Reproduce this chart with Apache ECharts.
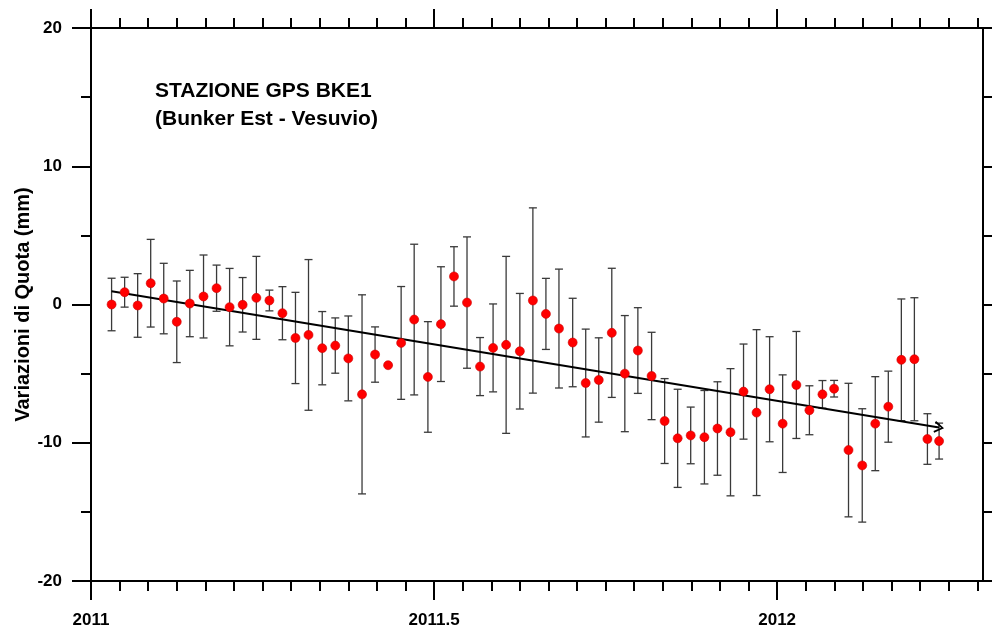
<!DOCTYPE html>
<html><head><meta charset="utf-8">
<script src="https://cdn.jsdelivr.net/npm/echarts@6/dist/echarts.min.js"></script>
<style>html,body{margin:0;padding:0;background:#fff}#c{width:992px;height:628px}</style>
</head><body><div id="c"></div>
<script>
// decimal-year epochs of the weekly GPS solutions
const times = [2011.030,2011.049,2011.068,2011.087,2011.106,2011.125,2011.144,2011.164,2011.183,2011.202,
  2011.221,2011.241,2011.260,2011.279,2011.298,2011.317,2011.337,2011.356,2011.375,2011.395,
  2011.414,2011.433,2011.452,2011.471,2011.491,2011.510,2011.529,2011.548,2011.567,2011.586,
  2011.605,2011.625,2011.644,2011.663,2011.682,2011.702,2011.721,2011.740,2011.759,2011.778,
  2011.797,2011.817,2011.836,2011.855,2011.874,2011.894,2011.913,2011.932,2011.951,2011.970,
  2011.989,2012.008,2012.028,2012.047,2012.066,2012.083,2012.104,2012.124,2012.143,2012.162,
  2012.181,2012.200,2012.219,2012.236];
// height variation (mm)
const values = [0.0,0.89,-0.07,1.54,0.43,-1.25,0.07,0.58,1.18,-0.19,
  -0.02,0.48,0.29,-0.63,-2.42,-2.2,-3.16,-2.97,-3.9,-6.5,
  -3.62,-4.39,-2.78,-1.09,-5.24,-1.42,2.03,0.14,-4.49,-3.14,
  -2.92,-3.38,0.29,-0.68,-1.74,-2.75,-5.68,-5.46,-2.05,-5.0,
  -3.33,-5.17,-8.43,-9.68,-9.47,-9.6,-8.97,-9.24,-6.3,-7.82,
  -6.13,-8.62,-5.82,-7.65,-6.5,-6.09,-10.53,-11.64,-8.62,-7.39,
  -4.0,-3.96,-9.73,-9.88];
// error half-widths (mm)
const errors = [1.9,1.08,2.3,3.17,2.55,2.95,2.4,3.0,1.67,2.8,
  1.97,3.0,0.75,1.92,3.3,5.45,2.65,2.0,3.07,7.2,
  2.0,0.0,4.08,5.45,4.0,4.15,2.15,4.75,2.1,3.18,
  6.4,4.18,6.7,2.57,4.3,3.2,3.9,3.05,4.67,4.2,
  3.1,3.16,3.07,3.55,2.05,3.38,3.38,4.6,3.44,6.0,
  3.8,3.53,3.87,1.77,1.0,0.6,4.83,4.1,3.4,2.57,
  4.4,4.45,1.83,1.3];
const trendStart = [2011.030, 0.96];
const trendEnd = [2012.236, -8.9];
const xMajorTicks = [2011, 2011.5, 2012];
const xMin = 2011, xMax = 2012.3;
const yMin = -20, yMax = 20, yInterval = 10;
const titleLines = ['STAZIONE GPS BKE1', '(Bunker Est - Vesuvio)'];
const yName = 'Variazioni di Quota (mm)';

const xMinorTicks = [];
for (let k = 1; xMin + k / 24 < xMax; k++) {
  if (k % 12 !== 0) xMinorTicks.push(Math.round((xMin + k / 24) * 1e6) / 1e6);
}

const FONT = 'Liberation Sans, Arial, sans-serif';
const lineStyle = { color: '#000', width: 2 };

function xAxis(position, custom, len, showLine, showLabel) {
  return {
    type: 'value', position: position, min: xMin, max: xMax,
    axisLine: { show: showLine, onZero: false, lineStyle: lineStyle },
    axisTick: { show: true, inside: false, length: len, customValues: custom, lineStyle: lineStyle },
    axisLabel: { show: showLabel, customValues: xMajorTicks, margin: 31,
      color: '#000', fontFamily: FONT, fontWeight: 'bold', fontSize: 17,
      formatter: v => String(v) },
    splitLine: { show: false }
  };
}
function yAxis(position, showLabel) {
  return {
    type: 'value', position: position, min: yMin, max: yMax, interval: yInterval,
    name: showLabel ? yName : '', nameLocation: 'middle', nameGap: 58, nameMoveOverlap: false,
    nameTextStyle: { color: '#000', fontFamily: FONT, fontWeight: 'bold', fontSize: 20 },
    axisLine: { show: true, onZero: false, lineStyle: lineStyle },
    axisTick: { show: true, inside: false, length: 19, lineStyle: lineStyle },
    minorTick: { show: true, splitNumber: 2, length: 10, lineStyle: lineStyle },
    axisLabel: { show: showLabel, margin: 29, color: '#000', fontFamily: FONT, fontWeight: 'bold', fontSize: 17 },
    splitLine: { show: false }, minorSplitLine: { show: false }
  };
}

const errData = times.map((t, i) => [t, values[i] - errors[i], values[i] + errors[i]]);
const ptData = times.map((t, i) => [t, values[i]]);

const chart = echarts.init(document.getElementById('c'), null, { renderer: 'canvas' });
chart.setOption({
  animation: false,
  backgroundColor: '#fff',
  title: {
    text: titleLines.join('\n'), left: 150, top: 72,
    textStyle: { color: '#000', fontFamily: FONT, fontWeight: 'bold', fontSize: 21, lineHeight: 28 }
  },
  grid: { left: 91, top: 28, right: 9, bottom: 47, containLabel: false, outerBoundsMode: 'none' },
  xAxis: [
    xAxis('bottom', xMajorTicks, 19, true, true),
    xAxis('bottom', xMinorTicks, 10, false, false),
    xAxis('top', xMajorTicks, 19, true, false),
    xAxis('top', xMinorTicks, 10, false, false)
  ],
  yAxis: [yAxis('left', true), yAxis('right', false)],
  series: [
    {
      type: 'line', xAxisIndex: 0, yAxisIndex: 0, data: [],
      markLine: {
        silent: true, animation: false,
        symbol: ['none', 'path://M5,0 L10,9 L8.6,10 L5,3 L1.4,10 L0,9 Z'],
        symbolSize: [12, 10],
        label: { show: false },
        lineStyle: { color: '#000', width: 2, type: 'solid' },
        data: [[{ coord: trendStart }, { coord: trendEnd }]]
      }
    },
    {
      type: 'custom', xAxisIndex: 0, yAxisIndex: 0, data: errData, z: 3,
      renderItem: function (params, api) {
        const x = api.value(0);
        const lo = api.coord([x, api.value(1)]);
        const hi = api.coord([x, api.value(2)]);
        const st = { stroke: '#3a3a3a', lineWidth: 1.3 };
        return {
          type: 'group', children: [
            { type: 'line', shape: { x1: lo[0], y1: lo[1], x2: hi[0], y2: hi[1] }, style: st },
            { type: 'line', shape: { x1: lo[0] - 4, y1: lo[1], x2: lo[0] + 4, y2: lo[1] }, style: st },
            { type: 'line', shape: { x1: hi[0] - 4, y1: hi[1], x2: hi[0] + 4, y2: hi[1] }, style: st }
          ]
        };
      }
    },
    {
      type: 'scatter', xAxisIndex: 0, yAxisIndex: 0, data: ptData, z: 5,
      symbol: 'circle', symbolSize: 9,
      itemStyle: { color: '#ff0000', borderColor: '#cc0000', borderWidth: 0.6, opacity: 1 }
    }
  ]
});
</script></body></html>
